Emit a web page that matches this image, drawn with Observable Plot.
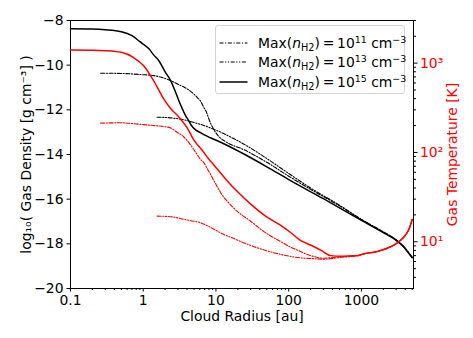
<!DOCTYPE html>
<html><head><meta charset="utf-8">
<script src="https://cdn.jsdelivr.net/npm/d3@7"></script>
<script src="https://cdn.jsdelivr.net/npm/@observablehq/plot@0.6"></script>
<style>
body{margin:0;background:#fff;font-family:"DejaVu Sans",sans-serif;}
#wrap{position:relative;width:473px;height:338px;overflow:hidden;}
#wrap svg.plotsvg{position:absolute;left:0;top:0;}
#legend{position:absolute;left:215px;top:25px;width:190px;height:69px;border:1px solid #d4d4d4;border-radius:3px;background:rgba(255,255,255,0.85);font-size:13.9px;box-sizing:border-box;color:#000;}
.row{position:absolute;left:0;height:20px;display:flex;align-items:center;white-space:nowrap;}
.row svg{margin-left:3px;margin-right:10px;}
.sb{font-size:0.7em;vertical-align:-0.3em;line-height:0;}
.sp{font-size:0.68em;vertical-align:0.5em;line-height:0;}
</style>
</head><body>
<div id="wrap"><div id="legend"></div></div>
<script>
// ---- data ----
const xMajor = [0.1, 1, 10, 100, 1000];
const xMinor = [0.2,0.3,0.4,0.5,0.6,0.7,0.8,0.9,2,3,4,5,6,7,8,9,20,30,40,50,60,70,80,90,200,300,400,500,600,700,800,900,2000,3000,4000,5000];
const yMajor = [-20, -18, -16, -14, -12, -10, -8];
const tMajor = [10, 100, 1000];
const tMinor = [4,5,6,7,8,9,20,30,40,50,60,70,80,90,200,300,400,500,600,700,800,900,2000,3000];
const seriesNames = ["Max(n_H2)=1e11", "Max(n_H2)=1e13", "Max(n_H2)=1e15"];
const legendExp = ["11", "13", "15"];

// density, Max(nH2)=1e11 (dash-dot)
const rD11 = [0.26, 0.49, 0.92, 1.4, 2.38, 3.0, 4.0, 5.0, 5.5, 6.1, 6.8, 7.5, 8.0, 9.4, 11, 12.9, 16, 21.8, 50, 100, 200, 500, 1000, 2000, 3100, 3700, 4300, 5000];
const dens11 = [-10.36, -10.37, -10.42, -10.47, -10.69, -10.85, -11.06, -11.3, -11.44, -11.6, -11.89, -12.15, -12.41, -12.9, -13.2, -13.38, -13.55, -13.72, -14.35, -14.97, -15.56, -16.3, -16.92, -17.48, -17.86, -18.08, -18.33, -18.62];
// density, Max(nH2)=1e13 (dash-dot-dot)
const rD13 = [1.55, 2.38, 4.0, 5.0, 6.8, 9.0, 11.6, 16, 21.8, 35, 50, 100, 200, 500, 1000, 2000, 3100, 3700, 4300, 5000];
const dens13 = [-12.33, -12.36, -12.48, -12.57, -12.7, -12.85, -13.0, -13.22, -13.45, -13.85, -14.18, -14.85, -15.5, -16.27, -16.9, -17.46, -17.85, -18.07, -18.32, -18.6];
// density, Max(nH2)=1e15 (solid)
const rD15 = [0.1, 0.2, 0.3, 0.5, 0.7, 0.9, 1.2, 1.4, 1.64, 2.0, 2.38, 2.7, 3.09, 3.5, 3.82, 4.2, 4.6, 5.24, 6.1, 6.82, 8.4, 11.6, 21.8, 50, 106, 300, 1000, 2000, 3100, 3700, 4300, 5000];
const dens15 = [-8.37, -8.38, -8.41, -8.5, -8.68, -8.95, -9.27, -9.55, -9.8, -10.3, -10.69, -11.1, -11.59, -12.0, -12.26, -12.47, -12.7, -12.9, -13.02, -13.11, -13.25, -13.45, -13.9, -14.55, -15.17, -15.98, -16.95, -17.5, -17.88, -18.1, -18.35, -18.62];

// temperature, Max(nH2)=1e11
const rT11 = [0.26, 0.49, 0.74, 1.0, 1.4, 1.9, 2.38, 2.93, 3.6, 4.0, 4.7, 5.5, 6.1, 6.8, 7.5, 8.4, 9.4, 10.7, 12.1, 14, 15.8, 19.5, 30, 45.6, 75, 106, 130, 200, 306, 520, 880, 1060, 1660, 2525, 2800, 3450, 4000, 4500, 5000];
const temp11 = [213, 215, 210, 205, 200, 195, 188, 168, 150, 137, 115, 95, 84, 77, 67, 57, 48, 40, 33.5, 29, 26, 22, 17, 13, 10.2, 8.7, 8.1, 7.0, 6.55, 6.8, 7.0, 7.3, 7.8, 8.8, 9.2, 10.4, 11.8, 13.8, 17.8];
// temperature, Max(nH2)=1e13
const rT13 = [1.55, 2.5, 3.6, 4.5, 6.1, 8, 10.4, 12.5, 17.6, 21.8, 30, 50.8, 86, 147, 200, 306, 520, 880, 1060, 1660, 2525, 2800, 3450, 4000, 4500, 5000];
const temp13 = [19.4, 19.0, 17.9, 17.2, 16.4, 14.8, 13.2, 12.2, 10.9, 10.1, 9.1, 7.9, 7.1, 6.6, 6.5, 6.4, 6.7, 7.0, 7.3, 7.8, 8.8, 9.2, 10.4, 11.8, 13.8, 17.8];
// temperature, Max(nH2)=1e15
const rT15 = [0.1, 0.2, 0.3, 0.5, 0.74, 1.02, 1.4, 1.92, 2.38, 3.09, 4.0, 4.96, 6.5, 8.0, 9.4, 14.3, 20, 30, 45.6, 86, 106, 147, 200, 280, 379, 520, 700, 880, 1060, 1660, 2525, 2800, 3450, 4000, 4500, 5000];
const temp15 = [1400, 1395, 1380, 1320, 1150, 930, 630, 395, 310, 250, 190, 138, 105, 84, 72, 48, 36, 26.4, 20, 14.4, 12.7, 10.3, 9.2, 8.0, 7.0, 6.9, 6.95, 7.0, 7.3, 7.8, 8.8, 9.2, 10.4, 11.8, 13.8, 17.8];

// ---- styles ----
const DASH11 = "4,1.6,1.2,1.6";
const DASH13 = "4,1.6,1.2,1.6,1.2,1.6";
const rows = (r, v) => r.map((x, i) => ({r: x, v: v[i]}));
const W = 473, H = 338;
const margins = {marginTop: 20, marginRight: 60, marginBottom: 50, marginLeft: 70};
const styleBase = {fontFamily: "DejaVu Sans", fontSize: "13.9px", overflow: "visible"};
const xScale = {type: "log", domain: [0.1, 5200]};
const minus = d => String(d).replace("-", "\u2212");
const blank = () => "";
const supDigits = {"1": "\u00b9", "2": "\u00b2", "3": "\u00b3"};

const p1 = Plot.plot({
  width: W, height: H, ...margins,
  style: {...styleBase, background: "white"},
  x: xScale,
  y: {domain: [-20, -8]},
  marks: [
    Plot.line(rows(rD11, dens11), {x: "r", y: "v", stroke: "black", strokeWidth: 1.1, strokeDasharray: DASH11, curve: "monotone-x"}),
    Plot.line(rows(rD13, dens13), {x: "r", y: "v", stroke: "black", strokeWidth: 1.1, strokeDasharray: DASH13, curve: "monotone-x"}),
    Plot.line(rows(rD15, dens15), {x: "r", y: "v", stroke: "black", strokeWidth: 1.5, curve: "monotone-x"}),
    Plot.axisX(xMajor, {tickSize: 3.5, tickPadding: 3, tickFormat: d => String(d), label: null}),
    Plot.axisX(xMinor, {tickSize: 2, tickFormat: blank, label: null}),
    Plot.axisY(yMajor, {tickSize: 3.5, tickPadding: 3.5, tickFormat: minus, label: null}),
    Plot.frame({stroke: "black", strokeWidth: 1}),
    Plot.text(["Cloud Radius [au]"], {frameAnchor: "bottom", dy: 28.5, textAnchor: "middle", lineAnchor: "middle", text: d => d}),
    Plot.text(["log\u2081\u2080( Gas Density [g cm\u207b\u00b3] )"], {frameAnchor: "left", dx: -44, rotate: -90, textAnchor: "middle", lineAnchor: "middle", text: d => d})
  ]
});
p1.classList.add("plotsvg");

const p2 = Plot.plot({
  width: W, height: H, ...margins,
  style: {...styleBase, background: "transparent"},
  x: {...xScale, axis: null},
  y: {type: "log", domain: [3, 3000]},
  marks: [
    Plot.line(rows(rT11, temp11), {x: "r", y: "v", stroke: "red", strokeWidth: 1.1, strokeDasharray: DASH11, curve: "monotone-x"}),
    Plot.line(rows(rT13, temp13), {x: "r", y: "v", stroke: "red", strokeWidth: 1.1, strokeDasharray: DASH13, curve: "monotone-x"}),
    Plot.line(rows(rT15, temp15), {x: "r", y: "v", stroke: "red", strokeWidth: 1.5, curve: "monotone-x"}),
    Plot.axisY(tMajor, {anchor: "right", tickSize: 3.5, tickPadding: 3, stroke: "black", fill: "red", tickFormat: d => "10" + supDigits[String(Math.round(Math.log10(d)))], label: null}),
    Plot.axisY(tMinor, {anchor: "right", tickSize: 2, stroke: "black", tickFormat: blank, label: null}),
    Plot.text(["Gas Temperature [K]"], {frameAnchor: "right", dx: 39, rotate: -90, textAnchor: "middle", lineAnchor: "middle", fill: "red", text: d => d})
  ]
});
p2.classList.add("plotsvg");

const wrap = document.getElementById("wrap");
wrap.insertBefore(p1, wrap.firstChild);
wrap.insertBefore(p2, document.getElementById("legend"));

// ---- legend ----
const legend = document.getElementById("legend");
const dashes = [DASH11, DASH13, null];
const widths = [1.1, 1.1, 1.5];
const tops = [7, 25.7, 45.7];
legendExp.forEach((e, i) => {
  const row = document.createElement("div");
  row.className = "row";
  row.style.top = tops[i] + "px";
  row.title = seriesNames[i];
  row.innerHTML = `<svg width="29" height="6"><line x1="0.5" y1="3" x2="28.5" y2="3" stroke="black" stroke-width="${widths[i]}" ${dashes[i] ? `stroke-dasharray="${dashes[i]}"` : ""}/></svg>` +
    `<span>Max(<i>n</i><span class="sb">H2</span>)&#8201;=&#8201;10<span class="sp">${e}</span> cm<span class="sp">\u22123</span></span>`;
  legend.appendChild(row);
});
</script>
</body></html>
